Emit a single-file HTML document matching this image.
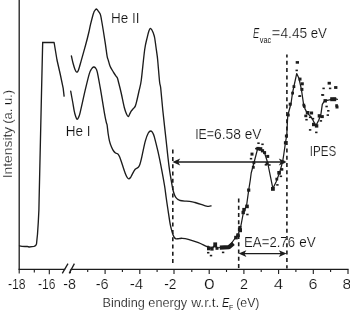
<!DOCTYPE html>
<html><head><meta charset="utf-8"><title>UPS / IPES spectra</title>
<style>html,body{margin:0;padding:0;background:#fff;}body{width:350px;height:313px;overflow:hidden;}svg{display:block;}</style>
</head><body>
<svg width="350" height="313" viewBox="0 0 350 313">
<rect width="350" height="313" fill="#fff"/>
<g stroke="#1c1c1c" stroke-width="1.3" fill="none" stroke-linecap="butt">
<path d="M19.2,0 V269.4"/>
<path d="M18.5,269.4 H65.2 M70.6,269.4 H348.6"/>
<path d="M62.3,273.4 L68,263.6 M69.2,273.4 L74.4,263.6" stroke-width="1.3"/>
</g>
<path d="M70.4,269.4 V273.2 M87.7,269.4 V272.1 M105.1,269.4 V274.1 M122.4,269.4 V272.1 M139.8,269.4 V274.1 M157.1,269.4 V272.1 M174.0,269.4 V274.1 M191.8,269.4 V272.1 M209.2,269.4 V274.1 M226.5,269.4 V272.1 M243.9,269.4 V274.1 M261.2,269.4 V272.1 M278.6,269.4 V274.1 M295.9,269.4 V272.1 M313.3,269.4 V274.1 M330.6,269.4 V272.1 M348.0,269.4 V274.1 M19.2,269.4 V273.4 M34.3,269.4 V272.4 M49.3,269.4 V274.2" stroke="#1c1c1c" stroke-width="1.1" fill="none"/>
<g stroke="#1c1c1c" stroke-width="1.35" fill="none" stroke-linejoin="round" stroke-linecap="round">
<path d="M19.5,245.9 L22.0,246.4 L25.0,246.5 L27.0,246.3 L29.1,247.0 L32.0,246.6 L34.0,246.3 L35.6,245.6 L36.5,244.0 L36.9,240.0 L37.5,234.2 L38.3,222.0 L38.9,210.0 L39.1,200.0 L41.5,93.0 L42.5,50.0 L42.7,42.5"/>
<path d="M42.7,42.5 L54.1,42.5 L57.0,60.0 L60.2,74.0 L63.2,88.4 L64.1,96.2"/>
<path d="M70.7,91.2 C71.0,92.8 71.9,97.8 72.5,101.0 C73.1,104.2 73.6,107.7 74.1,110.3 C74.6,112.9 75.2,115.0 75.7,116.5 C76.2,118.0 76.6,119.2 77.1,119.4 C77.6,119.6 78.0,118.7 78.5,117.5 C79.0,116.3 79.1,116.8 80.2,112.3 C81.3,107.8 83.7,96.6 85.2,90.2 C86.7,83.8 88.2,77.6 89.2,74.1 C90.2,70.6 90.8,70.2 91.5,69.0 C92.2,67.8 92.9,67.2 93.6,67.0 C94.3,66.8 94.9,67.2 95.5,68.0 C96.1,68.8 96.5,68.7 97.3,72.1 C98.1,75.5 99.1,81.5 100.3,88.2 C101.5,94.9 103.3,106.6 104.3,112.3 C105.3,118.0 105.8,120.3 106.3,122.4 C106.8,124.5 106.8,123.1 107.1,125.0 C107.4,126.9 107.8,131.3 108.2,134.0 C108.6,136.7 109.0,138.9 109.5,141.1 C110.0,143.3 110.8,145.3 111.5,147.0 C112.2,148.7 112.9,150.0 113.6,151.0 C114.3,152.0 114.8,152.5 115.5,153.0 C116.2,153.5 117.4,153.5 118.1,154.2 C118.8,154.9 119.2,155.8 119.7,157.0 C120.2,158.2 120.3,158.5 121.2,161.2 C122.1,163.9 124.2,170.6 125.2,173.3 C126.2,176.0 126.6,176.6 127.2,177.5 C127.8,178.4 128.2,178.9 128.8,178.9 C129.4,178.9 129.9,178.3 130.5,177.5 C131.1,176.7 131.4,175.7 132.2,174.3 C133.0,172.9 134.2,170.5 135.2,169.3 C136.2,168.1 137.5,168.1 138.3,167.3 C139.1,166.5 139.3,165.8 139.8,164.5 C140.3,163.2 140.4,163.1 141.3,159.2 C142.2,155.3 144.1,145.5 145.3,141.1 C146.5,136.7 147.4,134.7 148.3,133.0 C149.2,131.3 150.2,131.0 150.9,131.0 C151.7,131.0 152.2,132.0 152.8,133.0 C153.4,134.0 153.6,134.1 154.4,137.1 C155.2,140.1 156.6,145.5 157.9,151.2 C159.2,156.9 160.9,165.5 162.0,171.3 C163.1,177.1 163.9,181.7 164.6,186.0 C165.3,190.3 165.6,193.3 166.1,197.0 C166.6,200.7 167.0,203.5 167.7,208.0 C168.4,212.5 169.5,220.3 170.2,224.2 C170.9,228.1 171.5,229.7 172.0,231.5 C172.5,233.3 172.8,234.2 173.2,235.3 C173.6,236.4 174.0,237.2 174.5,237.8 C175.0,238.4 175.4,238.8 176.2,238.9 C176.9,239.0 178.0,238.7 179.0,238.6 C180.0,238.5 180.8,238.2 182.3,238.3 C183.9,238.4 185.6,238.6 188.3,239.3 C191.0,240.0 195.4,241.5 198.4,242.7 C201.4,243.9 204.8,245.7 206.4,246.3 C208.0,246.9 207.8,246.2 208.1,246.2"/>
<path d="M71.4,56.0 C71.7,57.2 72.4,60.8 73.0,63.0 C73.6,65.2 74.4,68.0 75.0,69.5 C75.6,71.0 76.2,72.1 76.8,72.2 C77.4,72.3 77.8,72.0 78.5,70.0 C79.2,68.0 80.1,64.6 81.3,60.4 C82.5,56.2 84.3,49.7 85.6,45.0 C86.9,40.3 88.1,35.5 88.9,32.0 C89.7,28.5 89.8,27.3 90.6,24.1 C91.4,20.9 92.8,15.3 93.6,13.0 C94.3,10.7 94.6,10.9 95.1,10.2 C95.5,9.5 95.9,9.0 96.3,9.0 C96.7,9.0 96.9,9.4 97.6,10.2 C98.2,11.0 99.5,12.4 100.2,14.0 C100.9,15.6 101.0,17.3 101.5,20.0 C102.0,22.7 102.6,26.3 103.2,30.0 C103.8,33.7 104.4,37.7 105.1,42.1 C105.8,46.5 106.6,53.2 107.1,56.2 C107.6,59.2 107.8,58.5 108.3,60.2 C108.8,61.9 109.2,64.2 110.1,66.2 C110.9,68.2 112.4,70.4 113.4,72.1 C114.4,73.8 115.5,75.3 116.2,76.3 C116.9,77.3 116.9,76.8 117.4,78.1 C117.9,79.4 118.3,81.4 119.0,84.0 C119.7,86.6 120.4,89.6 121.3,93.5 C122.2,97.4 123.4,104.1 124.3,107.5 C125.2,110.9 125.8,112.5 126.5,114.0 C127.2,115.5 127.7,116.5 128.2,116.6 C128.7,116.7 129.0,115.4 129.5,114.5 C130.0,113.6 130.6,112.0 131.2,111.1 C131.8,110.2 132.3,109.8 133.0,109.0 C133.7,108.2 134.6,107.6 135.3,106.1 C136.0,104.6 136.4,102.5 137.0,100.0 C137.6,97.5 138.3,94.3 139.0,91.0 C139.7,87.7 140.4,86.9 141.3,80.0 C142.2,73.1 143.7,56.6 144.7,49.5 C145.7,42.4 146.6,40.2 147.3,37.1 C148.0,34.0 148.4,32.5 148.9,31.0 C149.4,29.6 149.8,28.6 150.3,28.4 C150.8,28.2 151.4,29.2 151.9,30.0 C152.4,30.8 152.8,31.8 153.3,33.1 C153.8,34.4 154.2,35.1 154.7,38.0 C155.2,40.9 155.9,46.5 156.4,50.2 C156.9,53.9 157.2,54.9 157.7,60.2 C158.2,65.5 159.1,77.4 159.6,82.0 C160.1,86.6 160.2,83.3 160.7,88.0 C161.2,92.7 161.9,101.2 162.8,110.2 C163.7,119.2 165.3,132.7 166.3,142.0 C167.3,151.3 168.1,159.1 169.0,166.2 C169.9,173.2 171.2,180.3 171.9,184.3 C172.6,188.3 172.6,188.2 173.0,190.0 C173.4,191.8 174.0,193.6 174.5,194.8 C175.0,196.0 175.2,196.5 175.8,197.3 C176.4,198.1 177.5,199.1 178.2,199.6 C178.9,200.1 178.8,200.2 180.2,200.5 C181.5,200.8 184.3,201.0 186.3,201.2 C188.3,201.4 190.9,201.7 192.3,201.9 C193.8,202.1 193.6,202.1 195.0,202.5 C196.4,202.9 199.1,203.7 201.0,204.3 C202.9,204.9 205.2,205.8 206.5,206.1 C207.8,206.4 208.0,206.3 208.8,206.3 C209.6,206.3 210.7,206.0 211.1,205.9"/>
<path d="M208.5,247.0 L211.6,248.7 L215.1,245.0 L216.8,248.0 L220.5,247.5 L224.0,247.3 L227.0,246.8 L230.0,245.5 L232.0,242.5 L234.5,239.0 L236.9,236.0 L238.5,233.0 L240.2,229.5 L241.8,221.0 L243.5,212.0 L246.5,206.0 L248.7,190.1 L250.3,180.0 L251.2,173.0 L254.3,161.5 L257.4,149.7 L260.3,148.3 L264.6,153.0 L267.6,162.5 L272.9,188.6 L276.3,181.4 L279.7,172.2 L282.6,161.9 L283.7,155.0 L285.5,142.4 L286.8,135.0 L287.6,118.0 L288.2,114.0 L291.1,103.0 L292.5,93.0 L294.0,86.0 L296.7,73.6 L299.0,78.5 L301.4,89.4 L303.6,104.4 L305.0,108.9 L307.2,113.0 L310.8,116.6 L313.0,120.2 L315.8,125.9 L318.7,120.2 L320.9,114.4 L322.3,104.4 L324.5,100.8 L329.5,99.8 L333.8,98.3 L337.4,99.3" stroke-width="1.25"/>
</g>
<g stroke="#1c1c1c" stroke-width="1.6" fill="none" stroke-dasharray="4 3.3">
<path d="M172.8,149.6 V264"/>
<path d="M238.7,198.4 V268.6"/>
<path d="M286.9,54.4 V268.6" stroke-dashoffset="0.9"/>
</g>
<path d="M175.4,162.0 H283.6" stroke="#1c1c1c" stroke-width="1.3"/><path d="M172.4,162.0 l7.8,-3.4 l-2,3.4 l2,3.4 z" fill="#1c1c1c"/><path d="M286.6,162.0 l-7.8,-3.4 l2,3.4 l-2,3.4 z" fill="#1c1c1c"/>
<path d="M241.6,253.6 H283.6" stroke="#1c1c1c" stroke-width="1.3"/><path d="M238.6,253.6 l7.8,-3.4 l-2,3.4 l2,3.4 z" fill="#1c1c1c"/><path d="M286.6,253.6 l-7.8,-3.4 l2,3.4 l-2,3.4 z" fill="#1c1c1c"/>
<g fill="#1c1c1c"><rect x="207.0" y="246.3" width="3.3" height="4"/><rect x="210.3" y="246.6" width="3.3" height="4"/><rect x="213.3" y="242.4" width="3.8" height="5"/><rect x="215.5" y="246.8" width="3" height="3"/><rect x="234.2" y="235.8" width="3.6" height="3.6"/><rect x="236.2" y="233.4" width="3.6" height="3.6"/><rect x="238.8" y="228.2" width="3.2" height="4"/><rect x="238.3" y="225.9" width="3.2" height="3.2"/><rect x="241.5" y="210.8" width="3.4" height="3.4"/><rect x="242.3" y="207.9" width="3.4" height="3.4"/><rect x="245.2" y="204.6" width="3.6" height="3.6"/><rect x="247.1" y="188.5" width="3.2" height="3.2"/><rect x="250.5" y="152.6" width="3" height="3"/><rect x="252.5" y="161.3" width="2.8" height="2.8"/><rect x="251.9" y="165.9" width="2.8" height="2.8"/><rect x="256.3" y="146.9" width="3.4" height="3.4"/><rect x="258.7" y="147.2" width="3.6" height="3.6"/><rect x="260.9" y="149.2" width="3.2" height="3.2"/><rect x="263.1" y="151.1" width="3" height="3"/><rect x="266.2" y="154.9" width="3" height="3"/><rect x="265.6" y="162.0" width="3" height="2.8"/><rect x="271.0" y="187.0" width="3.8" height="3.8"/><rect x="275.4" y="177.7" width="2.8" height="2.8"/><rect x="277.3" y="171.0" width="3.6" height="3.6"/><rect x="280.7" y="168.1" width="2.6" height="2.6"/><rect x="281.6" y="160.5" width="2.8" height="2.8"/><rect x="283.9" y="141.2" width="3.2" height="3.2"/><rect x="284.9" y="134.5" width="3" height="3"/><rect x="295.7" y="61.1" width="3.3" height="2.6"/><rect x="298.5" y="77.6" width="3" height="3"/><rect x="300.8" y="82.3" width="3" height="3"/><rect x="300.4" y="87.9" width="3" height="3"/><rect x="292.5" y="85.2" width="2.8" height="2.8"/><rect x="291.2" y="91.7" width="2.8" height="2.8"/><rect x="288.7" y="102.7" width="3" height="3"/><rect x="302.4" y="103.7" width="2.8" height="2.8"/><rect x="286.7" y="113.5" width="3" height="3"/><rect x="303.0" y="105.2" width="2.6" height="2.6"/><rect x="305.8" y="111.0" width="3.6" height="3.4"/><rect x="304.3" y="114.6" width="3" height="2.6"/><rect x="309.9" y="111.5" width="3.2" height="3"/><rect x="312.0" y="122.8" width="3.4" height="3.4"/><rect x="314.9" y="124.2" width="3.4" height="3.4"/><rect x="317.7" y="114.2" width="3.4" height="3.4"/><rect x="320.8" y="115.1" width="3" height="3"/><rect x="323.5" y="99.1" width="3.4" height="3.4"/><rect x="330.2" y="97.2" width="6" height="4"/><rect x="335.5" y="105.5" width="3" height="3"/><rect x="327.6" y="81.8" width="3.3" height="2.8"/><rect x="334.1" y="86.1" width="3.3" height="2.8"/><rect x="335.3" y="104.2" width="2.6" height="2.6"/><path d="M219.8,247.6 L229,247.2 L233.4,243.4" stroke="#1c1c1c" stroke-width="4.2" fill="none" stroke-linejoin="round"/><rect x="279.7" y="175.5" width="2.4" height="1.6"/><rect x="276.2" y="184.1" width="2.4" height="1.6"/><rect x="264.7" y="164.0" width="2.4" height="1.6"/><rect x="207.0" y="251.9" width="2.4" height="1.6"/><rect x="209.8" y="254.8" width="2.4" height="1.6"/><rect x="221.9" y="251.6" width="2.4" height="1.6"/><rect x="246.2" y="213.7" width="2.4" height="1.6"/><rect x="261.3" y="143.5" width="2.4" height="1.6"/><rect x="257.3" y="142.4" width="2.4" height="1.6"/><rect x="249.8" y="157.9" width="2.4" height="1.6"/><rect x="268.2" y="164.2" width="2.4" height="1.6"/><rect x="295.5" y="69.6" width="2.4" height="1.6"/><rect x="298.3" y="95.4" width="2.4" height="1.6"/><rect x="298.8" y="95.2" width="2.4" height="1.6"/><rect x="308.9" y="116.5" width="2.4" height="1.6"/><rect x="305.3" y="118.9" width="2.4" height="1.6"/><rect x="311.8" y="117.9" width="2.4" height="1.6"/><rect x="308.9" y="129.1" width="2.4" height="1.6"/><rect x="315.1" y="131.6" width="2.4" height="1.6"/><rect x="319.7" y="120.1" width="2.4" height="1.6"/><rect x="321.8" y="94.2" width="2.4" height="1.6"/><rect x="325.4" y="105.7" width="2.4" height="1.6"/><rect x="327.1" y="110.0" width="2.4" height="1.6"/><rect x="326.6" y="114.3" width="2.4" height="1.6"/><rect x="322.4" y="87.6" width="2.4" height="1.6"/><rect x="328.9" y="87.6" width="2.4" height="1.6"/><rect x="321.1" y="94.1" width="2.4" height="1.6"/><rect x="255.1" y="147.8" width="2.4" height="1.6"/></g>
<g font-family="'Liberation Sans', sans-serif" font-size="14.2" fill="#111" stroke="#fff" stroke-width="0.2">
<text><tspan x="110.95" y="23.20" font-size="14.2" textLength="28.50" lengthAdjust="spacingAndGlyphs">He II</tspan></text>
<text><tspan x="65.70" y="135.90" font-size="14.2" textLength="24.75" lengthAdjust="spacingAndGlyphs">He I</tspan></text>
<text><tspan x="195.20" y="139.40" font-size="14.2" textLength="18.75" lengthAdjust="spacingAndGlyphs">IE=</tspan><tspan x="213.95" y="139.40" font-size="14.2" textLength="27.00" lengthAdjust="spacingAndGlyphs">6.58</tspan> <tspan x="244.70" y="139.40" font-size="14.2" textLength="16.75" lengthAdjust="spacingAndGlyphs">eV</tspan></text>
<text><tspan x="243.95" y="246.70" font-size="14.2" textLength="25.50" lengthAdjust="spacingAndGlyphs">EA=</tspan><tspan x="269.45" y="246.70" font-size="14.2" textLength="25.50" lengthAdjust="spacingAndGlyphs">2.76</tspan> <tspan x="299.20" y="246.70" font-size="14.2" textLength="16.50" lengthAdjust="spacingAndGlyphs">eV</tspan></text>
<text><tspan x="309.70" y="155.60" font-size="14.2" textLength="26.50" lengthAdjust="spacingAndGlyphs">IPES</tspan></text>
<text><tspan x="252.95" y="38.10" font-size="14.2" font-style="italic" textLength="6.25" lengthAdjust="spacingAndGlyphs">E</tspan><tspan x="259.70" y="43.10" font-size="8.3" stroke="none" fill="#1a1a1a" textLength="11.50" lengthAdjust="spacingAndGlyphs">vac</tspan><tspan x="271.70" y="38.10" font-size="14.2" textLength="8.50" lengthAdjust="spacingAndGlyphs">=</tspan><tspan x="280.45" y="38.10" font-size="14.2" textLength="26.75" lengthAdjust="spacingAndGlyphs">4.45</tspan> <tspan x="310.70" y="38.10" font-size="14.2" textLength="16.25" lengthAdjust="spacingAndGlyphs">eV</tspan></text>
<text><tspan x="7.95" y="288.50" font-size="14.0" textLength="17.75" lengthAdjust="spacingAndGlyphs">-18</tspan></text>
<text><tspan x="37.95" y="288.50" font-size="14.0" textLength="17.50" lengthAdjust="spacingAndGlyphs">-16</tspan></text>
<text><tspan x="63.20" y="288.50" font-size="14.0" textLength="12.75" lengthAdjust="spacingAndGlyphs">-8</tspan></text>
<text><tspan x="95.70" y="288.50" font-size="14.0" textLength="13.00" lengthAdjust="spacingAndGlyphs">-6</tspan></text>
<text><tspan x="129.70" y="288.50" font-size="14.0" textLength="13.50" lengthAdjust="spacingAndGlyphs">-4</tspan></text>
<text><tspan x="164.20" y="288.50" font-size="14.0" textLength="12.25" lengthAdjust="spacingAndGlyphs">-2</tspan></text>
<text><tspan x="203.95" y="288.50" font-size="14.0" textLength="10.75" lengthAdjust="spacingAndGlyphs">0</tspan></text>
<text><tspan x="239.95" y="288.50" font-size="14.0" textLength="8.00" lengthAdjust="spacingAndGlyphs">2</tspan></text>
<text><tspan x="273.70" y="288.50" font-size="14.0" textLength="9.50" lengthAdjust="spacingAndGlyphs">4</tspan></text>
<text><tspan x="308.45" y="288.50" font-size="14.0" textLength="9.00" lengthAdjust="spacingAndGlyphs">6</tspan></text>
<text><tspan x="342.45" y="288.50" font-size="14.0" textLength="8.70" lengthAdjust="spacingAndGlyphs">8</tspan></text>
<text><tspan x="102.45" y="307.40" font-size="13.2" textLength="84.75" lengthAdjust="spacingAndGlyphs">Binding energy</tspan> <tspan x="191.20" y="307.40" font-size="13.2" textLength="28.25" lengthAdjust="spacingAndGlyphs">w.r.t.</tspan> <tspan x="221.95" y="307.40" font-size="13.2" font-style="italic" textLength="7.25" lengthAdjust="spacingAndGlyphs">E</tspan><tspan x="228.95" y="309.50" font-size="8.0" stroke="none" fill="#1a1a1a" textLength="4.25" lengthAdjust="spacingAndGlyphs">F</tspan> <tspan x="236.20" y="307.40" font-size="13.2" textLength="23.25" lengthAdjust="spacingAndGlyphs">(eV)</tspan></text>
<text transform="translate(11.9,0) rotate(-90)" font-size="13.2"><tspan x="-178.3" y="0" textLength="51.6" lengthAdjust="spacingAndGlyphs">Intensity</tspan> <tspan x="-123.8" y="0" textLength="33.8" lengthAdjust="spacingAndGlyphs">(a. u.)</tspan></text>
</g>
</svg>
</body></html>
